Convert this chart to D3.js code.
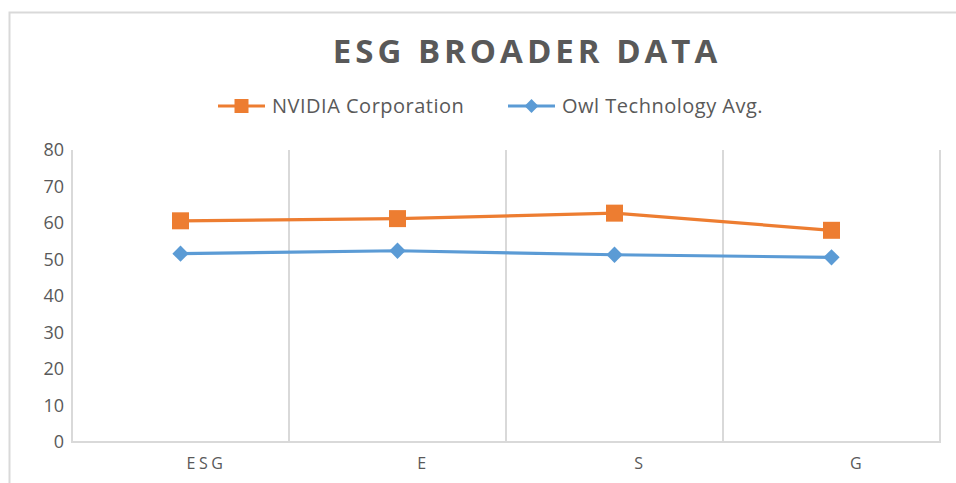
<!DOCTYPE html>
<html>
<head>
<meta charset="utf-8">
<script src="https://cdn.jsdelivr.net/npm/d3@7"></script>
<style>
  body { margin: 0; background: #fff; }
  text { font-family: "Open Sans", "Noto Sans", sans-serif; fill: #595959; }
</style>
</head>
<body>
<svg id="chart"></svg>
<script>
// chart data
const categories = ['ESG', 'E', 'S', 'G'];
const nvidiaValues = [60.6, 61.2, 62.7, 58.0];
const owlValues = [51.6, 52.4, 51.3, 50.6];
const seriesNames = ['NVIDIA Corporation', 'Owl Technology Avg.'];
const yTicks = [0, 10, 20, 30, 40, 50, 60, 70, 80];

const width = 956, height = 483;
const margin = { top: 150, right: 16, bottom: 41, left: 72 };
const grid = '#d9d9d9';
const colors = ['#ED7D31', '#5B9BD5'];

const svg = d3.select('#chart').attr('width', width).attr('height', height);

// outer chart border (only top and left visible)
svg.append('path')
  .attr('d', `M9.5,${height} V12.5 H${width}`)
  .attr('fill', 'none').attr('stroke', grid).attr('stroke-width', 2);

const x = d3.scaleBand().domain(categories)
  .range([margin.left, width - margin.right]);
const y = d3.scaleLinear().domain([0, 80])
  .range([height - margin.bottom, margin.top]);

// vertical category separators
const bounds = categories.map(c => x(c)).concat([x.range()[1]]);
svg.append('g').selectAll('line').data(bounds).enter().append('line')
  .attr('x1', d => d).attr('x2', d => d)
  .attr('y1', y(80)).attr('y2', y(0))
  .attr('stroke', grid).attr('stroke-width', 2);

// bottom axis line
svg.append('line')
  .attr('x1', x.range()[0] - 1).attr('x2', x.range()[1] + 1)
  .attr('y1', y(0)).attr('y2', y(0))
  .attr('stroke', grid).attr('stroke-width', 2);

// y axis labels
const yAxis = svg.append('g')
  .attr('transform', `translate(${margin.left},0)`)
  .call(d3.axisLeft(y).tickValues(yTicks).tickSize(0).tickPadding(8));
yAxis.select('.domain').remove();
yAxis.selectAll('text')
  .style('font-size', '18px').attr('fill', '#595959');

// x axis labels
const xAxis = svg.append('g')
  .attr('transform', `translate(0,${y(0)})`)
  .call(d3.axisBottom(x).tickSize(0).tickPadding(16));
xAxis.select('.domain').remove();
xAxis.selectAll('text')
  .style('font-size', '16px').style('letter-spacing', '3.5px')
  .attr('fill', '#595959').attr('dx', 26);

// lines and markers
const line = d3.line()
  .x((d, i) => x(categories[i]) + x.bandwidth() / 2)
  .y(d => y(d));

const series = [nvidiaValues, owlValues];
series.forEach((vals, s) => {
  svg.append('path').datum(vals)
    .attr('d', line)
    .attr('fill', 'none')
    .attr('stroke', colors[s])
    .attr('stroke-width', 3.2);
});

const square = d3.symbol().type(d3.symbolSquare).size(17 * 17);
const diamond = d3.symbol().type(d3.symbolDiamond2).size(13 * 13);

svg.append('g').selectAll('path').data(nvidiaValues).enter().append('path')
  .attr('transform', (d, i) => `translate(${x(categories[i]) + x.bandwidth() / 2},${y(d)})`)
  .attr('d', square).attr('fill', colors[0]);

svg.append('g').selectAll('path').data(owlValues).enter().append('path')
  .attr('transform', (d, i) => `translate(${x(categories[i]) + x.bandwidth() / 2},${y(d)})`)
  .attr('d', diamond).attr('fill', colors[1]);

// title
svg.append('text')
  .attr('x', 527).attr('y', 63)
  .attr('text-anchor', 'middle')
  .style('font-size', '33px').style('font-weight', 'bold')
  .style('letter-spacing', '4px')
  .text('ESG BROADER DATA');

// legend
const legendItems = [
  { name: seriesNames[0], x: 218, shape: 'square', color: colors[0] },
  { name: seriesNames[1], x: 508, shape: 'diamond', color: colors[1] }
];
const lg = svg.append('g').selectAll('g').data(legendItems).enter().append('g')
  .attr('transform', d => `translate(${d.x},106)`);
lg.append('line').attr('x1', 0).attr('x2', 47)
  .attr('stroke', d => d.color).attr('stroke-width', 3.2);
lg.append('path').attr('transform', 'translate(23.5,0)')
  .attr('d', d => d.shape === 'square'
    ? d3.symbol().type(d3.symbolSquare).size(14 * 14)()
    : d3.symbol().type(d3.symbolDiamond2).size(11 * 11)())
  .attr('fill', d => d.color);
lg.append('text').attr('x', 54).attr('y', 7)
  .style('font-size', '20px').style('letter-spacing', '0.5px')
  .text(d => d.name);
</script>
</body>
</html>
